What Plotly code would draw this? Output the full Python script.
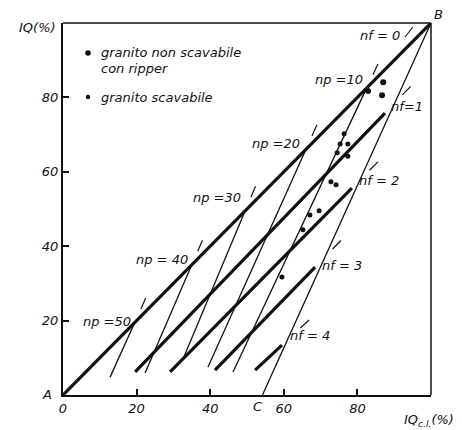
import math
import plotly.graph_objects as go

# ---------------- data ----------------
# diagonal A-B  (nf = 0) and fissuration lines nf = 1..4 (thick)
nf_labels = [0, 1, 2, 3, 4]
nf_start_x = [0.0, 19.6, 29.1, 41.3, 52.2]
nf_start_y = [0.0, 6.2, 6.2, 6.7, 6.7]
nf_end_x = [100.0, 87.5, 78.5, 68.5, 59.5]
nf_end_y = [100.0, 75.8, 55.6, 34.4, 13.4]

# porosity lines np (thin), top point lies on the diagonal A-B
np_labels = [10, 20, 30, 40, 50]
np_top_iq = [82.5, 66.0, 49.5, 35.0, 19.5]
np_bottom_x = [46.2, 39.4, 32.5, 22.3, 12.8]
np_bottom_y = [6.2, 7.5, 9.4, 5.9, 4.8]

# line B-C (thin)
bc_x = [100.0, 54.2]
bc_y = [100.0, 0.0]

# measured granite samples
non_scav_x = [82.9, 87.0, 86.7]
non_scav_y = [81.7, 84.1, 80.6]
scav_x = [76.4, 75.3, 77.4, 74.5, 77.4, 72.8, 74.2, 67.1, 69.6, 65.2, 59.5]
scav_y = [70.2, 67.5, 67.5, 65.1, 64.2, 57.3, 56.5, 48.4, 49.5, 44.4, 31.7]

x_ticks = [0, 20, 40, 60, 80]
y_ticks = [20, 40, 60, 80]

# ---------------- layout helpers ----------------
W, H = 462, 430
ML, MR, MT, MB = 63, 31, 23, 35
PW, PH = W - ML - MR, H - MT - MB
FONT = "DejaVu Sans"
FS = 13


def dx(px):
    return (px - ML) / PW * 100.0


def dy(py):
    return (H - MB - py) / PH * 100.0


def pxp(px):
    return (px - ML) / PW


def pyp(py):
    return (H - MB - py) / PH


fig = go.Figure()
BLACK = "#111"

# thick nf lines
for i in range(len(nf_labels)):
    fig.add_trace(go.Scatter(
        x=[nf_start_x[i], nf_end_x[i]], y=[nf_start_y[i], nf_end_y[i]],
        mode="lines", line=dict(color=BLACK, width=3.2),
        showlegend=False, hoverinfo="skip", cliponaxis=False))

# thin np lines
for i in range(len(np_labels)):
    fig.add_trace(go.Scatter(
        x=[np_top_iq[i], np_bottom_x[i]], y=[np_top_iq[i], np_bottom_y[i]],
        mode="lines", line=dict(color=BLACK, width=1.3),
        showlegend=False, hoverinfo="skip", cliponaxis=False))

# B-C line
fig.add_trace(go.Scatter(x=bc_x, y=bc_y, mode="lines",
                         line=dict(color=BLACK, width=1.3),
                         showlegend=False, hoverinfo="skip", cliponaxis=False))

# small tick marks beyond line ends
tick_x, tick_y = [], []
for i in range(len(np_labels)):
    x0, y0 = np_bottom_x[i], np_bottom_y[i]
    x1, y1 = np_top_iq[i], np_top_iq[i]
    L = math.hypot(x1 - x0, y1 - y0)
    ux, uy = (x1 - x0) / L, (y1 - y0) / L
    tick_x += [x1 + 4.0 * ux, x1 + 7.2 * ux, None]
    tick_y += [y1 + 4.0 * uy, y1 + 7.2 * uy, None]
for i in range(1, len(nf_labels)):
    x0, y0 = nf_start_x[i], nf_start_y[i]
    x1, y1 = nf_end_x[i], nf_end_y[i]
    L = math.hypot(x1 - x0, y1 - y0)
    ux, uy = (x1 - x0) / L, (y1 - y0) / L
    tick_x += [x1 + 6.8 * ux, x1 + 10.0 * ux, None]
    tick_y += [y1 + 6.8 * uy, y1 + 10.0 * uy, None]
tick_x += [dx(405), dx(413), None]
tick_y += [dy(37), dy(27), None]
fig.add_trace(go.Scatter(x=tick_x, y=tick_y, mode="lines",
                         line=dict(color=BLACK, width=1.2),
                         showlegend=False, hoverinfo="skip", cliponaxis=False))

# samples
fig.add_trace(go.Scatter(x=non_scav_x, y=non_scav_y, mode="markers",
                         marker=dict(color=BLACK, size=6),
                         showlegend=False, hoverinfo="skip"))
fig.add_trace(go.Scatter(x=scav_x, y=scav_y, mode="markers",
                         marker=dict(color=BLACK, size=5),
                         showlegend=False, hoverinfo="skip"))

# ---------------- annotations ----------------
ann = []


def txt(s, px, py, xa="left", size=FS):
    ann.append(dict(text="<i>" + s + "</i>", x=pxp(px), y=pyp(py), xref="paper", yref="paper",
                    xanchor=xa, yanchor="middle", showarrow=False,
                    font=dict(family=FONT, size=size, color=BLACK)))


np_label_px = [(365, 79), (302, 143), (243, 197), (190, 259), (133, 321)]
np_label_txt = ["np =10", "np =20", "np =30", "np = 40", "np =50"]
for s, (px, py) in zip(np_label_txt, np_label_px):
    txt(s, px, py, "right")

txt("nf = 0", 402, 36, "right")
txt("nf=1", 389, 106, "left")
txt("nf = 2", 357, 181, "left")
txt("nf = 3", 320, 265, "left")
txt("nf = 4", 288, 335, "left")

txt("A", 54, 394, "right")
txt("B", 432, 14, "left")
txt("C", 258, 406, "center")
txt("IQ(%)", 58, 28, "right")
txt("IQ<sub>c.l.</sub>(%)", 402, 420, "left")

# legend
txt("granito non scavabile", 99, 52, "left")
txt("con ripper", 99, 68, "left")
txt("granito scavabile", 99, 97, "left")

shapes = [
    dict(type="circle", xref="x", yref="y", xsizemode="pixel", ysizemode="pixel",
         xanchor=dx(88), yanchor=dy(53), x0=-2.8, x1=2.8, y0=-2.8, y1=2.8,
         fillcolor=BLACK, line=dict(width=0)),
    dict(type="circle", xref="x", yref="y", xsizemode="pixel", ysizemode="pixel",
         xanchor=dx(88), yanchor=dy(97), x0=-2.2, x1=2.2, y0=-2.2, y1=2.2,
         fillcolor=BLACK, line=dict(width=0)),
    # top and right frame
    dict(type="line", xref="paper", yref="paper", x0=0, x1=1, y0=1, y1=1,
         line=dict(color=BLACK, width=1.5)),
    dict(type="line", xref="paper", yref="paper", x0=1, x1=1, y0=0, y1=1,
         line=dict(color=BLACK, width=1.5)),
]

fig.update_layout(
    width=W, height=H,
    margin=dict(l=ML, r=MR, t=MT, b=MB, pad=0),
    paper_bgcolor="white", plot_bgcolor="white",
    annotations=ann, shapes=shapes, showlegend=False,
    font=dict(family=FONT, size=FS, color=BLACK),
)
fig.update_xaxes(range=[0, 100], showgrid=False, zeroline=False,
                 showline=True, linecolor=BLACK, linewidth=2,
                 ticks="inside", ticklen=6, tickwidth=1.5, tickcolor=BLACK,
                 tickvals=x_ticks, ticktext=["<i>%d</i>" % v for v in x_ticks],
                 tickfont=dict(family=FONT, size=FS, color=BLACK))
fig.update_yaxes(range=[0, 100], showgrid=False, zeroline=False,
                 showline=True, linecolor=BLACK, linewidth=2,
                 ticks="inside", ticklen=6, tickwidth=1.5, tickcolor=BLACK,
                 tickvals=y_ticks, ticktext=["<i>%d</i>" % v for v in y_ticks],
                 tickfont=dict(family=FONT, size=FS, color=BLACK))

fig.write_html("out.html", config={"displayModeBar": False},
               post_script="document.body.style.margin='0';")
